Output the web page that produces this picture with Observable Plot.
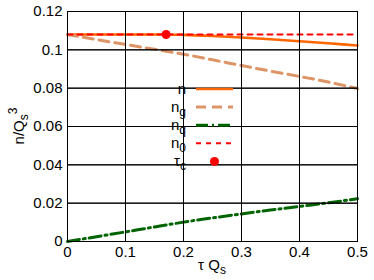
<!DOCTYPE html>
<html><head><meta charset="utf-8">
<script src="https://cdn.jsdelivr.net/npm/d3@7"></script>
<script src="https://cdn.jsdelivr.net/npm/@observablehq/plot@0.6"></script>
<style>
html,body{margin:0;padding:0;background:#fff;}
#chart{position:relative;width:374px;height:280px;}
svg{font-family:"Liberation Sans",Arial,sans-serif;}
</style></head>
<body><div id="chart"></div>
<script>
// data
const tau = [0, 0.05, 0.1, 0.15, 0.17, 0.2, 0.25, 0.3, 0.35, 0.4, 0.45, 0.5];
const nTotal = [0.108, 0.108, 0.108, 0.108, 0.108, 0.1078, 0.1072, 0.1064, 0.1055, 0.1045, 0.1034, 0.1023];
const nG = [0.108, 0.1053, 0.1028, 0.1003, 0.0993, 0.0977, 0.0948, 0.0918, 0.0889, 0.0861, 0.0832, 0.0798];
const nQ = [0, 0.0025, 0.0050, 0.0076, 0.0086, 0.0101, 0.0123, 0.0144, 0.0164, 0.0183, 0.0202, 0.0223];
const n0 = [0.108, 0.108, 0.108, 0.108, 0.108, 0.108, 0.108, 0.108, 0.108, 0.108, 0.108, 0.108];
const tauC = [0.17];
const nAtTauC = [0.108];
const xTicks = [0, 0.1, 0.2, 0.3, 0.4, 0.5];
const yTicks = [0, 0.02, 0.04, 0.06, 0.08, 0.1, 0.12];

const series = [
  {key: "n", vals: nTotal, color: "#ff6600", width: 2.6, dash: null},
  {key: "ng", vals: nG, color: "#dd9466", width: 3, dash: "10,6"},
  {key: "nq", vals: nQ, color: "#006400", width: 3, dash: "12,4,2,4"},
  {key: "n0", vals: n0, color: "#ff0000", width: 2, dash: "5,5"}
];
const rows = series.flatMap(s => tau.map((t, i) => ({key: s.key, t, v: s.vals[i]})));
const pt = tauC.map((t, i) => ({t, v: nAtTauC[i]}));

const fmt = d => String(+d.toFixed(2));
const FS = 15;

const plot = Plot.plot({
  width: 374, height: 280,
  marginLeft: 67, marginRight: 17, marginTop: 11, marginBottom: 39,
  style: {fontFamily: '"Liberation Sans", Arial, sans-serif', fontSize: FS + "px", color: "#000", background: "#fff"},
  x: {domain: [0, 0.5]},
  y: {domain: [0, 0.12]},
  marks: [
    ...series.map(s => Plot.line(rows.filter(r => r.key === s.key), {
      x: "t", y: "v", stroke: s.color, strokeWidth: s.width, strokeDasharray: s.dash, curve: "monotone-x"
    })),
    Plot.dot(pt, {x: "t", y: "v", r: 4.5, fill: "#ff0000", stroke: null}),
    Plot.axisX({ticks: xTicks, tickSize: 0, tickPadding: 5, tickFormat: fmt, label: null, fontSize: FS}),
    Plot.axisY({ticks: yTicks, tickSize: 0, tickPadding: 5, tickFormat: fmt, label: null, fontSize: FS}),
    Plot.tickX(xTicks, {x: d => d, y1: 0, y2: 0.12 * 5 / 230, stroke: "#000"}),
    Plot.tickX(xTicks, {x: d => d, y1: 0.12, y2: 0.12 - 0.12 * 5 / 230, stroke: "#000"}),
    Plot.tickY(yTicks, {y: d => d, x1: 0, x2: 0.5 * 5 / 290, stroke: "#000"}),
    Plot.tickY(yTicks, {y: d => d, x1: 0.5, x2: 0.5 - 0.5 * 5 / 290, stroke: "#000"}),
    Plot.frame({stroke: "#000", strokeWidth: 1})
  ]
});
document.getElementById("chart").appendChild(plot);

const svg = d3.select(plot);
// axis titles
const yl = svg.append("text").attr("transform", "translate(24,126) rotate(-90)")
  .attr("text-anchor", "middle").attr("font-size", FS).attr("fill", "#000");
yl.append("tspan").text("n/Q");
yl.append("tspan").attr("font-size", FS * 0.8).attr("dy", 4).text("s");
yl.append("tspan").attr("font-size", FS * 0.8).attr("dy", -11).text("3");

const xl = svg.append("text").attr("x", 212).attr("y", 270)
  .attr("text-anchor", "middle").attr("font-size", FS).attr("fill", "#000");
xl.append("tspan").text("τ Q");
xl.append("tspan").attr("font-size", FS * 0.8).attr("dy", 4).text("s");

// legend
const legend = [
  {main: "n", sub: "", type: "line", s: series[0]},
  {main: "n", sub: "g", type: "line", s: series[1]},
  {main: "n", sub: "q", type: "line", s: series[2]},
  {main: "n", sub: "0", type: "line", s: series[3]},
  {main: "τ", sub: "c", type: "dot"}
];
const lg = svg.append("g");
legend.forEach((d, i) => {
  const y = 89 + i * 18.1;
  const t = lg.append("text").attr("x", 186).attr("y", y + 5).attr("text-anchor", "end")
    .attr("font-size", FS).attr("fill", "#000");
  t.append("tspan").text(d.main);
  if (d.sub) t.append("tspan").attr("font-size", FS * 0.8).attr("dy", 4).text(d.sub);
  if (d.type === "line") {
    lg.append("line").attr("x1", 196).attr("x2", 233).attr("y1", y).attr("y2", y)
      .attr("stroke", d.s.color).attr("stroke-width", d.s.width)
      .attr("stroke-dasharray", d.s.dash);
  } else {
    lg.append("circle").attr("cx", 214.5).attr("cy", y).attr("r", 4.5).attr("fill", "#ff0000");
  }
});
</script></body></html>
